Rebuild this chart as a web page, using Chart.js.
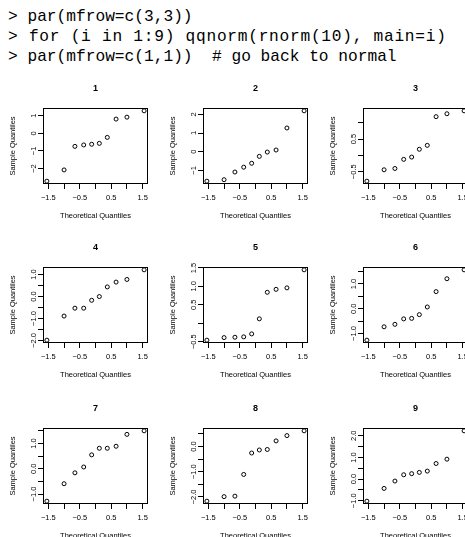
<!DOCTYPE html>
<html>
<head>
<meta charset="utf-8">
<script src="https://cdn.jsdelivr.net/npm/chart.js@4/dist/chart.umd.min.js"></script>
<style>
  html, body { margin:0; padding:0; background:#fff; overflow:hidden; width:465px; height:537px; }
  #code { position:absolute; left:8px; top:7px; margin:0; font:16.2px/20px "Liberation Mono", monospace; color:#000; }
  #code .wide { letter-spacing:0.73px; }
  canvas { position:absolute; }
</style>
</head>
<body>
<pre id="code">&gt; par(mfrow=c(3,3))
<span class="wide">&gt; for (i in 1:9) qqnorm(rnorm(10), main=i)</span>
&gt; par(mfrow=c(1,1))  # go back to normal</pre>
<script>
// ─── DATA ─────────────────────────────────────────────────────────────────────
// theoretical quantiles for n = 10
const theo = [-1.547, -1.000, -0.655, -0.375, -0.122, 0.122, 0.375, 0.655, 1.000, 1.547];

const sample1 = [-2.72, -2.08, -0.74, -0.66, -0.62, -0.57, -0.23, 0.81, 0.92, 1.28];
const sample2 = [-1.58, -1.50, -1.09, -0.83, -0.62, -0.25, -0.02, 0.09, 1.27, 2.19];
const sample3 = [-0.79, -0.44, -0.40, -0.12, -0.05, 0.19, 0.31, 1.19, 1.28, 1.37];
const sample4 = [-1.99, -0.89, -0.53, -0.53, -0.17, 0.00, 0.44, 0.66, 0.78, 1.22];
const sample5 = [-0.46, -0.39, -0.38, -0.37, -0.29, 0.12, 0.84, 0.92, 0.96, 1.45];
const sample6 = [-1.27, -0.73, -0.63, -0.41, -0.39, -0.24, 0.07, 0.69, 1.21, 1.57];
const sample7 = [-1.28, -0.59, -0.16, 0.07, 0.55, 0.81, 0.81, 0.89, 1.36, 1.50];
const sample8 = [-2.17, -1.99, -1.97, -1.11, -0.26, -0.14, -0.12, 0.22, 0.43, 0.62];
const sample9 = [-1.02, -0.43, -0.09, 0.20, 0.25, 0.31, 0.37, 0.72, 0.92, 2.23];

const xTicks  = [-1.5, -1, -0.5, 0, 0.5, 1, 1.5];
const xLabels = ['\u22121.5', '', '\u22120.5', '', '0.5', '', '1.5'];

const yTicks1 = [-2, -1, 0, 1];            const yLabels1 = ['\u22122', '\u22121', '0', '1'];
const yTicks2 = [-1, 0, 1, 2];             const yLabels2 = ['\u22121', '0', '1', '2'];
const yTicks3 = [-0.5, 0, 0.5, 1];         const yLabels3 = ['\u22120.5', '', '0.5', ''];
const yTicks4 = [-2, -1.5, -1, -0.5, 0, 0.5, 1];
const yLabels4 = ['\u22122.0', '', '\u22121.0', '', '0.0', '', '1.0'];
const yTicks5 = [-0.5, 0, 0.5, 1, 1.5];    const yLabels5 = ['\u22120.5', '', '0.5', '1.0', '1.5'];
const yTicks6 = [-1, -0.5, 0, 0.5, 1, 1.5];
const yLabels6 = ['\u22121.0', '', '0.0', '', '1.0', ''];
const yTicks7 = [-1, -0.5, 0, 0.5, 1, 1.5];
const yLabels7 = ['\u22121.0', '', '0.0', '', '1.0', ''];
const yTicks8 = [-2, -1.5, -1, -0.5, 0, 0.5];
const yLabels8 = ['\u22122.0', '', '\u22121.0', '', '0.0', ''];
const yTicks9 = [-1, -0.5, 0, 0.5, 1, 1.5, 2];
const yLabels9 = ['\u22121.0', '', '0.0', '', '1.0', '', '2.0'];

const panels = [
  { title:'1', y:sample1, ticks:yTicks1, labels:yLabels1 },
  { title:'2', y:sample2, ticks:yTicks2, labels:yLabels2 },
  { title:'3', y:sample3, ticks:yTicks3, labels:yLabels3 },
  { title:'4', y:sample4, ticks:yTicks4, labels:yLabels4 },
  { title:'5', y:sample5, ticks:yTicks5, labels:yLabels5 },
  { title:'6', y:sample6, ticks:yTicks6, labels:yLabels6 },
  { title:'7', y:sample7, ticks:yTicks7, labels:yLabels7 },
  { title:'8', y:sample8, ticks:yTicks8, labels:yLabels8 },
  { title:'9', y:sample9, ticks:yTicks9, labels:yLabels9 },
];

// ─── LAYOUT ───────────────────────────────────────────────────────────────────
const CELL_W = 160, CANVAS_H = 175, TOP_PAD = 55, RIGHT_PAD = 12, Y_AXIS_W = 43, X_AXIS_H = 44;
const boxTops = [108, 267, 428];
const FONT = '"Liberation Sans", Arial, sans-serif';

// R-like 4% range extension
function ext(arr) {
  const lo = Math.min(...arr), hi = Math.max(...arr), d = (hi - lo) * 0.04;
  return [lo - d, hi + d];
}

// box, title and rotated y labels, drawn like base R
const rDecor = {
  id: 'rDecor',
  afterDraw(chart, args, opts) {
    const { ctx, chartArea: a } = chart;
    const ys = chart.scales.y;
    ctx.save();
    ctx.strokeStyle = '#000';
    ctx.lineWidth = 1;
    ctx.strokeRect(Math.round(a.left) + 0.5, Math.round(a.top) + 0.5,
                   Math.round(a.right - a.left) - 1, Math.round(a.bottom - a.top) - 1);
    ctx.fillStyle = '#000';
    ctx.textAlign = 'center';
    ctx.textBaseline = 'middle';
    ctx.font = 'bold 9px ' + FONT;
    ctx.fillText(opts.title, (a.left + a.right) / 2, a.top - 19);
    ctx.font = '7.5px ' + FONT;
    opts.ticks.forEach((v, i) => {
      const s = opts.labels[i];
      if (!s) return;
      ctx.save();
      ctx.translate(a.left - 9.5, ys.getPixelForValue(v));
      ctx.rotate(-Math.PI / 2);
      ctx.fillText(s, 0, 0);
      ctx.restore();
    });
    ctx.restore();
  }
};

panels.forEach((p, k) => {
  const col = k % 3, row = Math.floor(k / 3);
  const cv = document.createElement('canvas');
  cv.width = CELL_W; cv.height = CANVAS_H;
  cv.style.left = (col * CELL_W) + 'px';
  cv.style.top = (boxTops[row] - TOP_PAD) + 'px';
  document.body.appendChild(cv);

  const [xmin, xmax] = ext(theo);
  const [ymin, ymax] = ext(p.y);

  new Chart(cv.getContext('2d'), {
    type: 'scatter',
    data: { datasets: [{
      data: theo.map((x, i) => ({ x, y: p.y[i] })),
      pointStyle: 'circle', pointRadius: 2, pointHoverRadius: 2,
      borderColor: '#000', borderWidth: 1, backgroundColor: 'rgba(0,0,0,0)'
    }] },
    options: {
      responsive: false, animation: false, devicePixelRatio: 1,
      layout: { padding: { top: TOP_PAD, right: RIGHT_PAD, left: 0, bottom: 0 } },
      plugins: {
        legend: { display: false }, tooltip: { enabled: false },
        rDecor: { title: p.title, ticks: p.ticks, labels: p.labels }
      },
      scales: {
        x: {
          type: 'linear', min: xmin, max: xmax,
          afterBuildTicks: s => { s.ticks = xTicks.map(v => ({ value: v })); },
          afterFit: s => { s.height = X_AXIS_H; },
          grid: { drawOnChartArea: false, drawTicks: true, tickLength: 5, color: '#000', lineWidth: 1 },
          border: { display: false },
          ticks: {
            autoSkip: false, maxRotation: 0, minRotation: 0, padding: 4, color: '#000',
            font: { family: FONT, size: 7.5 },
            callback: (v, i) => xLabels[i]
          },
          title: { display: true, text: 'Theoretical Quantiles', color: '#000',
                   font: { family: FONT, size: 7.5 }, padding: { top: 0, bottom: 7.5 } }
        },
        y: {
          type: 'linear', min: ymin, max: ymax,
          afterBuildTicks: s => { s.ticks = p.ticks.map(v => ({ value: v })); },
          afterFit: s => { s.width = Y_AXIS_W; },
          grid: { drawOnChartArea: false, drawTicks: true, tickLength: 5, color: '#000', lineWidth: 1 },
          border: { display: false },
          ticks: { display: false },
          title: { display: true, text: 'Sample Quantiles', color: '#000',
                   font: { family: FONT, size: 7.5 }, padding: { top: 8, bottom: 0 } }
        }
      }
    },
    plugins: [rDecor]
  });
});
</script>
</body>
</html>
